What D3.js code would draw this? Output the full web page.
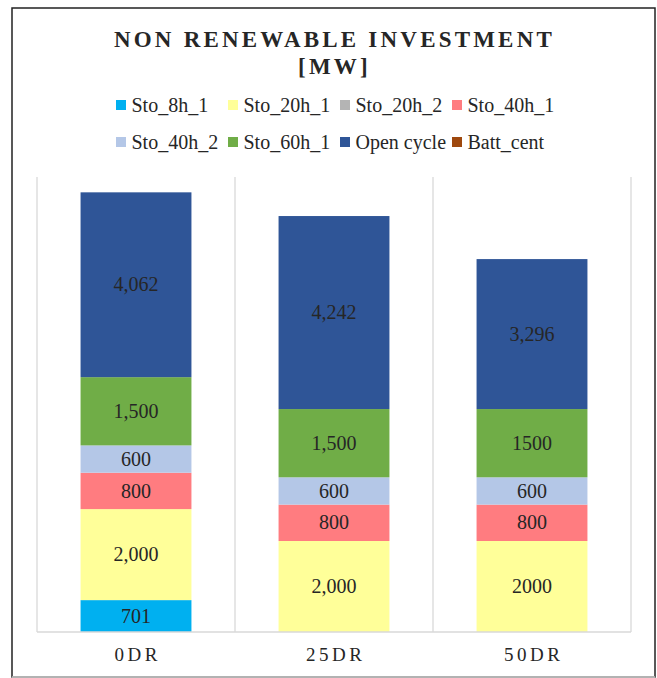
<!DOCTYPE html>
<html>
<head>
<meta charset="utf-8">
<script src="https://cdn.jsdelivr.net/npm/d3@7"></script>
<style>
  body { margin: 0; background: #fff; }
  text { font-family: "Liberation Serif", "Times New Roman", serif; }
</style>
</head>
<body>
<svg id="chart" width="657" height="678"></svg>
<script>
// categories and series (MW)
const categories = ["0DR", "25DR", "50DR"];
const seriesNames = ["Sto_8h_1", "Sto_20h_1", "Sto_20h_2", "Sto_40h_1", "Sto_40h_2", "Sto_60h_1", "Open cycle", "Batt_cent"];
const seriesColors = ["#00b0f0", "#ffff99", "#b4b4b4", "#ff7c80", "#b4c7e7", "#70ad47", "#2f5597", "#9e480e"];

const sto8h1 = [701, 0, 0];
const sto20h1 = [2000, 2000, 2000];
const sto20h2 = [0, 0, 0];
const sto40h1 = [800, 800, 800];
const sto40h2 = [600, 600, 600];
const sto60h1 = [1500, 1500, 1500];
const openCycle = [4062, 4242, 3296];
const battCent = [0, 0, 0];

// data labels as printed (50DR uses no thousands separator for some)
const sto8h1Labels = ["701", "", ""];
const sto20h1Labels = ["2,000", "2,000", "2000"];
const sto40h1Labels = ["800", "800", "800"];
const sto40h2Labels = ["600", "600", "600"];
const sto60h1Labels = ["1,500", "1,500", "1500"];
const openCycleLabels = ["4,062", "4,242", "3,296"];

const yMax = 10000;

const seriesValues = [sto8h1, sto20h1, sto20h2, sto40h1, sto40h2, sto60h1, openCycle, battCent];
const seriesLabels = [sto8h1Labels, sto20h1Labels, null, sto40h1Labels, sto40h2Labels, sto60h1Labels, openCycleLabels, null];

const rows = categories.map((c, i) => {
  let r = { cat: c };
  seriesNames.forEach((s, j) => r[s] = seriesValues[j][i]);
  return r;
});

const svg = d3.select("#chart");
const serif = "Liberation Serif, Times New Roman, serif";

// outer frame
svg.append("rect")
  .attr("x", 12).attr("y", 8).attr("width", 643).attr("height", 669)
  .attr("fill", "#fff").attr("stroke", "#222").attr("stroke-width", 1.5);
svg.append("line")
  .attr("x1", 12).attr("x2", 655).attr("y1", 677).attr("y2", 677)
  .attr("stroke", "#d0d0d0").attr("stroke-width", 1.5);

// title
const title = svg.append("text")
  .attr("text-anchor", "middle")
  .attr("font-family", serif)
  .attr("font-size", 23).attr("font-weight", "bold")
  .attr("letter-spacing", 3.2)
  .attr("fill", "#262626");
title.append("tspan").attr("x", 334.5).attr("y", 47).text("NON RENEWABLE INVESTMENT");
title.append("tspan").attr("x", 334.5).attr("y", 74).text("[MW]");

// legend (fixed column width like the original)
const legendCols = [116, 228, 340, 452];
const legendRows = [105, 142];
const legend = svg.append("g");
seriesNames.forEach((s, i) => {
  const lx = legendCols[i % 4], ly = legendRows[Math.floor(i / 4)];
  legend.append("rect")
    .attr("x", lx).attr("y", ly - 5).attr("width", 10).attr("height", 10)
    .attr("fill", seriesColors[i]);
  legend.append("text")
    .attr("x", lx + 15.5).attr("y", ly + 7)
    .attr("font-family", serif)
    .attr("font-size", 20).attr("fill", "#262626")
    .text(s);
});

// plot area
const margin = { top: 177, right: 26, bottom: 46, left: 37 };
const width = 657 - margin.left - margin.right;
const height = 678 - margin.top - margin.bottom;
const g = svg.append("g").attr("transform", `translate(${margin.left}, ${margin.top})`);

const x = d3.scaleBand()
  .domain(categories)
  .range([0, width])
  .paddingInner(0.44)
  .paddingOuter(0.22);

const y = d3.scaleLinear()
  .domain([0, yMax])
  .range([height, 0]);

// vertical category gridlines
const step = x.step();
const bounds = d3.range(categories.length + 1).map(i => i * step);
g.selectAll(".vgrid")
  .data(bounds)
  .enter().append("line")
  .attr("class", "vgrid")
  .attr("x1", d => d).attr("x2", d => d)
  .attr("y1", 0).attr("y2", height)
  .attr("stroke", "#d9d9d9").attr("stroke-width", 1.3);

const stack = d3.stack().keys(seriesNames);
const stacked = stack(rows);

const layer = g.selectAll(".layer")
  .data(stacked)
  .enter().append("g")
  .attr("class", "layer")
  .attr("fill", (d, i) => seriesColors[i]);

layer.selectAll("rect")
  .data(d => d)
  .enter().append("rect")
  .attr("x", d => x(d.data.cat))
  .attr("width", x.bandwidth())
  .attr("y", d => y(d[1]))
  .attr("height", d => y(d[0]) - y(d[1]));

// data labels
stacked.forEach((ser, i) => {
  const labs = seriesLabels[i];
  if (!labs) return;
  ser.forEach((d, j) => {
    if (d[1] - d[0] <= 0 || !labs[j]) return;
    g.append("text")
      .attr("x", x(d.data.cat) + x.bandwidth() / 2)
      .attr("y", (y(d[0]) + y(d[1])) / 2)
      .attr("dy", "0.33em")
      .attr("text-anchor", "middle")
      .attr("font-family", serif)
      .attr("font-size", 20)
      .attr("fill", "#262626")
      .text(labs[j]);
  });
});

// x axis baseline and labels
g.append("line")
  .attr("x1", 0).attr("x2", width)
  .attr("y1", height).attr("y2", height)
  .attr("stroke", "#d9d9d9").attr("stroke-width", 1.3);

const xAxis = g.append("g")
  .attr("transform", `translate(0, ${height})`)
  .call(d3.axisBottom(x).tickSize(0).tickPadding(15.5));
xAxis.select(".domain").remove();
xAxis.selectAll("text")
  .attr("font-family", serif)
  .attr("font-size", 19)
  .attr("letter-spacing", 3.5)
  .attr("dx", 1.75)
  .attr("fill", "#262626");
</script>
</body>
</html>
